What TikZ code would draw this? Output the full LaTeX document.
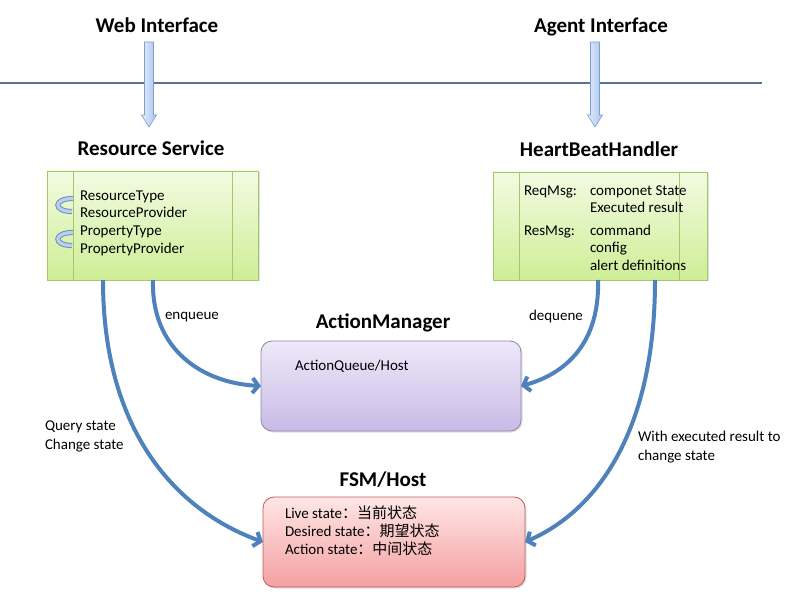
\documentclass[tikz,border=0pt]{standalone}
\usepackage{fontspec}
\setmainfont{Carlito}
\newfontfamily\cjk{Noto Sans CJK SC}
\usetikzlibrary{arrows.meta,shadows,calc}
\definecolor{flowblue}{HTML}{4F81BD}
\definecolor{hlinec}{HTML}{5A7392}
\definecolor{grtop}{HTML}{F3FBE2}
\definecolor{grbot}{HTML}{CDEE96}
\definecolor{grline}{HTML}{A9C46A}
\definecolor{putop}{HTML}{EEE9FA}
\definecolor{pubot}{HTML}{C9BAE6}
\definecolor{puline}{HTML}{8E87A6}
\definecolor{pktop}{HTML}{FFE6E6}
\definecolor{pkbot}{HTML}{F4A0A0}
\definecolor{pkline}{HTML}{C25A5A}
\definecolor{baleft}{HTML}{E2ECFB}
\definecolor{baright}{HTML}{A9C4EE}
\definecolor{baedge}{HTML}{7F9FCF}
\definecolor{icedge}{HTML}{6F8FB8}
\definecolor{icfill}{HTML}{B9CFEF}
\begin{document}
\begin{tikzpicture}[x=1pt,y=-1pt,
  every node/.style={inner sep=0pt,outer sep=0pt},
  title/.style={font=\fontsize{21}{25}\selectfont\bfseries,text height=13.5pt,text depth=0pt},
  txt/.style={font=\fontsize{15}{18}\selectfont,anchor=west,text height=9.5pt,text depth=0pt},
  shadowed/.style={drop shadow={shadow xshift=1.5pt,shadow yshift=-1.5pt,opacity=0.25}},
  greenbox/.style={draw=grline,line width=0.8pt,top color=grtop,bottom color=grbot,shadowed,anchor=north west},
  purplebox/.style={draw=puline,line width=0.8pt,rounded corners=11pt,top color=putop,bottom color=pubot,shadowed,anchor=north west},
  pinkbox/.style={draw=pkline,line width=0.8pt,rounded corners=11pt,top color=pktop,bottom color=pkbot,shadowed,anchor=north west},
  flow/.style={draw=flowblue,line width=4pt,-{Straight Barb[length=6pt,width=15pt]}},
  barrowstyle/.style={draw=baedge,line width=0.6pt,left color=baleft,right color=baright},
  barrow/.pic={\path[barrowstyle] (-4.5,0) -- (4.5,0) -- (4.5,73) -- (7.5,73) -- (0,85) -- (-7.5,73) -- (-4.5,73) -- cycle;},
  iconpic/.pic={\draw[icedge,line width=5.2pt] (9,0) .. controls (-11,0) and (-11,13) .. (8,13);
                \draw[icfill,line width=3.2pt] (9,0) .. controls (-11,0) and (-11,13) .. (8,13);}
]
\useasboundingbox (0,0) rectangle (802,609);
\fill[white] (0,0) rectangle (802,609);

% top titles and separator
\node[title] (web) at (157,26) {Web Interface};
\node[title] (agent) at (601,26) {Agent Interface};
\coordinate (hl) at (0,83);
\coordinate (hr) at (762,83);
\draw[hlinec,line width=1.1pt] (hl) -- (hr);
\pic at (149,42) {barrow};
\pic at (595,42) {barrow};

% Resource Service
\node[title] (rstitle) at (151,149) {Resource Service};
\node[greenbox,minimum width=211pt,minimum height=109pt] (rs) at (47,171) {};
\draw[grline,line width=0.8pt] ([xshift=26pt]rs.north west) -- ([xshift=26pt]rs.south west);
\draw[grline,line width=0.8pt] ([xshift=-26pt]rs.north east) -- ([xshift=-26pt]rs.south east);
\pic at (64,198.5) {iconpic};
\pic at (64,232.5) {iconpic};
\node[txt] (rt) at (80,196) {ResourceType};
\node[txt] (rp) at (80,213) {ResourceProvider};
\node[txt] (pt) at (80,231) {PropertyType};
\node[txt] (pp) at (80,249) {PropertyProvider};

% HeartBeatHandler
\node[title] (hbtitle) at (599,150) {HeartBeatHandler};
\node[greenbox,minimum width=214pt,minimum height=108pt] (hb) at (493,172) {};
\draw[grline,line width=0.8pt] ([xshift=26pt]hb.north west) -- ([xshift=26pt]hb.south west);
\draw[grline,line width=0.8pt] ([xshift=-28pt]hb.north east) -- ([xshift=-28pt]hb.south east);
\node[txt] (req) at (524,191) {ReqMsg:};
\node[txt] (req1) at (590,191) {componet State};
\node[txt] (req2) at (590,208) {Executed result};
\node[txt] (res) at (524,231) {ResMsg:};
\node[txt] (res1) at (590,231) {command};
\node[txt] (res2) at (590,248) {config};
\node[txt] (res3) at (590,266) {alert definitions};

% ActionManager
\node[title] (amtitle) at (383,322) {ActionManager};
\node[purplebox,minimum width=260pt,minimum height=90pt] (am) at (261,341) {};
\node[txt] (aq) at (295,366) {ActionQueue/Host};

% FSM/Host
\node[title] (fsmtitle) at (383,480) {FSM/Host};
\node[pinkbox,minimum width=262pt,minimum height=90pt] (fsm) at (263,497) {};
\node[txt] (ls) at (285,514) {Live state{\cjk ：当前状态}};
\node[txt] (ds) at (285,532) {Desired state{\cjk ：期望状态}};
\node[txt] (as) at (285,550) {Action state{\cjk ：中间状态}};

% flows
\draw[flow] ([xshift=-49.5pt]rs.south) .. controls +(0,150) and +(-88,-32) .. (fsm.west);
\draw[flow] ([xshift=0.5pt]rs.south) .. controls +(-2,70) and +(-58,-3) .. (am.west);
\draw[flow] ([xshift=-2pt]hb.south) .. controls +(2,70) and +(37,-10) .. (am.east);
\draw[flow] ([xshift=55pt]hb.south) .. controls +(0,150) and +(73,-32) .. (fsm.east);

% flow labels
\node[txt] (enq) at (165,315) {enqueue};
\node[txt] (deq) at (529,316) {dequene};
\node[txt] (qs) at (45,426) {Query state};
\node[txt] (cs) at (45,445) {Change state};
\node[txt] (we) at (638,437) {With executed result to};
\node[txt] (wc) at (638,456) {change state};
\end{tikzpicture}
\end{document}
